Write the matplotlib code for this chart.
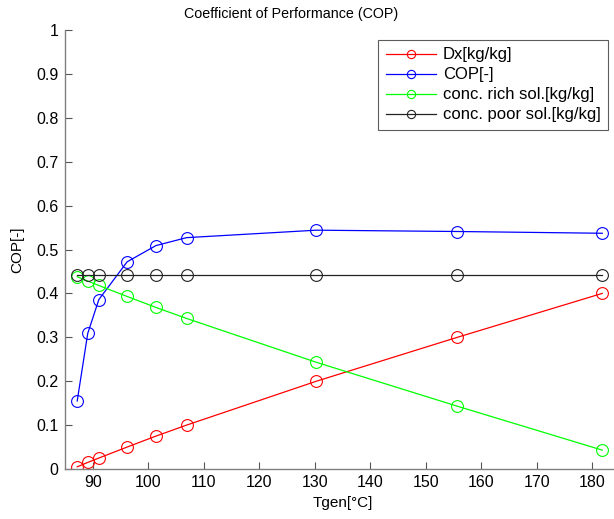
import numpy as np
import matplotlib.pyplot as plt

plt.rcParams['font.family'] = ['Liberation Sans', 'DejaVu Sans']

# generator temperature [°C]
tgen = [87.2, 89.1, 91.1, 96.2, 101.4, 106.9, 130.3, 155.7, 181.8]
# series
dx = [0.005, 0.015, 0.025, 0.05, 0.075, 0.1, 0.2, 0.3, 0.4]
cop = [0.155, 0.309, 0.386, 0.472, 0.509, 0.527, 0.544, 0.541, 0.537]
conc_rich = [0.438, 0.428, 0.418, 0.393, 0.368, 0.343, 0.243, 0.143, 0.043]
conc_poor = [0.443] * 9

xticks = [90, 100, 110, 120, 130, 140, 150, 160, 170, 180]
yticks = [0, 0.1, 0.2, 0.3, 0.4, 0.5, 0.6, 0.7, 0.8, 0.9, 1]
ytick_labels = ['0', '0.1', '0.2', '0.3', '0.4', '0.5', '0.6', '0.7', '0.8', '0.9', '1']

fig = plt.figure(figsize=(6.14, 5.19), dpi=100)
ax = fig.add_axes([65 / 614, 50 / 519, 555 / 614, 439 / 519])

mk = dict(marker='o', markerfacecolor='none', markersize=8.5, linewidth=0.9, markeredgewidth=0.8)
ax.plot(tgen, dx, color='#ff0000', label='Dx[kg/kg]', **mk)
ax.plot(tgen, cop, color='#0000ff', label='COP[-]', **mk)
ax.plot(tgen, conc_rich, color='#00ff00', label='conc. rich sol.[kg/kg]', **mk)
ax.plot(tgen, conc_poor, color='#222222', label='conc. poor sol.[kg/kg]', **mk)

ax.set_xlim(85, 185)
ax.set_ylim(0, 1)
ax.set_xticks(xticks)
ax.set_yticks(yticks)
ax.set_yticklabels(ytick_labels)
ax.tick_params(direction='in', length=5, width=0.8, color='#555555', labelsize=11.5, pad=4.5)

for side in ['top', 'right']:
    ax.spines[side].set_visible(False)
for side in ['left', 'bottom']:
    ax.spines[side].set_color('#808080')
    ax.spines[side].set_linewidth(1.0)

ax.set_title('Coefficient of Performance (COP)', fontsize=10.3, pad=8.5, x=(291 - 65) / 555)
ax.set_xlabel('Tgen[°C]', fontsize=11, labelpad=4)
ax.set_ylabel('COP[-]', fontsize=11, labelpad=9)

leg = ax.legend(loc='upper left', bbox_to_anchor=((378 - 65) / 555, (469 - 40) / 439),
                fontsize=12, frameon=True, fancybox=False, handlelength=3.0, markerscale=0.7,
                handletextpad=0.45, labelspacing=0.3, borderpad=0.45, borderaxespad=0)
leg.get_frame().set_edgecolor('#333333')
leg.get_frame().set_linewidth(0.8)

fig.savefig('out.png', dpi=100)
